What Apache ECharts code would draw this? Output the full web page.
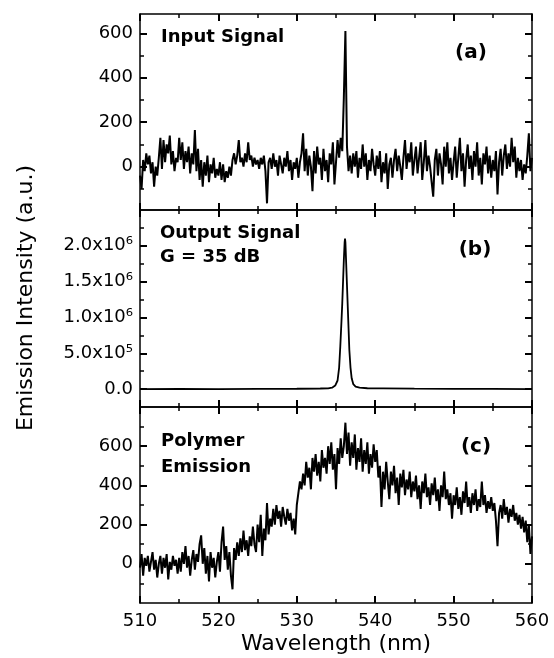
<!DOCTYPE html>
<html><head><meta charset="utf-8">
<script src="https://cdn.jsdelivr.net/npm/echarts@6/dist/echarts.min.js"></script>
<style>html,body{margin:0;padding:0;background:#fff}#c{width:554px;height:658px}</style>
</head><body><div id="c"></div>
<script>
// ---- data ----
const wlStart = 510, wlStep = 0.2;   // sampling of panels (a) and (c)
const inputSignal = [
-40,-100,30,-20,60,10,50,-30,20,-90,0,-40,40,130,-10,120,20,100,60,140,10,70,-20,40,20,
130,30,110,-10,70,20,90,-30,60,10,165,-20,80,-60,30,-90,20,-40,50,-70,10,-30,40,-50,-10,
-40,20,-60,10,-70,-20,-50,0,-40,30,60,10,50,120,20,40,0,60,20,110,30,50,0,40,10,
30,-10,40,10,50,-20,-165,20,40,-10,60,0,30,-40,50,10,-30,40,0,70,-20,30,-60,20,-10,
40,-50,20,60,150,-20,80,-40,50,0,-110,70,-30,90,10,40,-60,80,-20,30,-70,60,10,110,-80,
20,120,40,130,70,310,610,90,-20,50,-30,60,0,70,-50,40,-10,100,0,60,-60,30,-20,80,10,
-40,50,-10,70,-70,20,-30,60,-100,10,40,-50,30,80,-20,50,0,-60,40,120,-10,60,20,110,-40,
30,90,-30,40,110,-60,20,120,-20,50,0,-70,-135,30,80,-40,60,10,-80,90,0,110,-30,40,-60,
20,90,-50,40,130,-20,60,-90,30,100,-10,50,-60,70,0,110,-40,40,-80,60,10,90,-30,50,-50,
30,-20,70,-125,20,80,-40,50,100,-10,60,0,130,20,90,-50,40,-20,30,-60,10,-30,50,150,-20,40
];
const outputWavelength = [510,515,520,525,530,533,534,534.5,534.9,535.2,535.4,535.55,535.7,535.8,535.9,536,536.1,536.15,536.2,536.3,536.4,536.5,536.6,536.7,536.85,537,537.2,537.5,538,539,541,545,550,555,560];
const outputSignal = [0,0.002e6,0,0.004e6,0.005e6,0.008e6,0.01e6,0.02e6,0.05e6,0.12e6,0.3e6,0.6e6,0.95e6,1.2e6,1.5e6,1.8e6,2.05e6,2.1e6,2.05e6,1.75e6,1.45e6,1.15e6,0.85e6,0.55e6,0.3e6,0.15e6,0.07e6,0.035e6,0.02e6,0.012e6,0.01e6,0.006e6,0.004e6,0.002e6,0];
const polymerEmission = [
-20,50,-60,30,-10,40,-40,10,60,-30,20,-70,0,40,-50,30,-20,50,-80,10,-30,40,-10,20,-50,
30,-40,60,0,90,-20,40,-60,20,70,-30,50,10,100,145,0,80,-50,40,-90,60,-20,30,-70,10,
60,-40,110,190,20,90,-30,60,-60,-130,80,20,110,40,130,60,170,70,120,40,140,90,190,100,60,
200,110,250,40,180,120,310,150,230,190,280,200,300,230,270,190,290,240,200,280,220,260,170,230,150,
300,360,420,380,460,400,520,440,490,380,540,470,560,450,520,420,580,490,540,460,600,510,620,480,560,
380,590,510,640,540,600,720,560,670,500,620,540,660,480,590,520,640,470,580,510,620,460,560,490,610,
520,580,440,500,290,470,380,520,420,330,470,400,500,360,440,300,460,390,480,350,430,380,470,340,420,
370,450,330,400,280,420,360,460,340,390,300,410,350,440,320,380,270,400,340,470,330,380,300,360,230,
350,300,390,280,340,250,370,310,420,290,340,260,360,300,380,270,330,290,420,300,350,260,320,280,340,
270,310,220,90,260,300,230,330,250,290,210,280,240,300,220,260,200,250,180,240,160,220,110,200,50,140
];
const yMajorA = [0,200,400,600], yMinorA = [-100,100,300,500];
const yMajorB = [0,5e5,1e6,1.5e6,2e6], yMinorB = [2.5e5,7.5e5,1.25e6,1.75e6,2.25e6];
const yMajorC = [0,200,400,600], yMinorC = [-100,100,300,500,700];

// ---- build ----
const FONT = 'DejaVu Sans';
const BLACK = '#000';
const grids = [
  {left:140, right:22, top:14, height:196},
  {left:140, right:22, top:210, height:197},
  {left:140, right:22, top:407, height:196}
];
function xAxes(gi, last){
  const mk = (pos) => ({type:'value', gridIndex:gi, min:510, max:560, interval:10, position:pos,
    axisLine:{show:true,onZero:false,lineStyle:{color:BLACK,width:1.5}},
    axisTick:{show:true,inside:true,length:7,lineStyle:{color:BLACK,width:2}},
    minorTick:{show:true,splitNumber:2,length:4,lineStyle:{color:BLACK,width:1.5}},
    splitLine:{show:false}, minorSplitLine:{show:false},
    axisLabel:{show:false}});
  const bottom = mk('bottom');
  if (last){
    bottom.axisLabel = {show:true, color:BLACK, fontSize:18, margin:9};
  }
  return [bottom, mk('top')];
}
function yAxes(gi, min, max, majors, minors, fmt){
  const common = {type:'value', gridIndex:gi, min, max, splitLine:{show:false}};
  const lbl = {show:true, color:BLACK, fontSize:18, margin:7,
    customValues:majors, formatter:fmt};
  const major = (pos, withLabel) => Object.assign({}, common, {position:pos,
      axisLine:{show:true,lineStyle:{color:BLACK,width:1.5}},
      axisTick:{show:true,inside:true,length:7,customValues:majors,lineStyle:{color:BLACK,width:2}},
      axisLabel: withLabel ? lbl : {show:false, customValues:majors}});
  const minor = (pos) => Object.assign({}, common, {position:pos, axisLine:{show:false},
      axisTick:{show:true,inside:true,length:4,customValues:minors,lineStyle:{color:BLACK,width:1.5}},
      axisLabel:{show:false, customValues:minors}});
  return [major('left',true), minor('left'), major('right',false), minor('right')];
}
const SUP = {'0':'⁰','1':'¹','2':'²','3':'³','4':'⁴','5':'⁵','6':'⁶','7':'⁷','8':'⁸','9':'⁹'};
const sciFmt = v => {
  if (v === 0) return '0.0';
  const e = Math.floor(Math.log10(v) + 1e-9);
  const m = v / Math.pow(10, e);
  return m.toFixed(1) + 'x10' + String(e).split('').map(c => SUP[c]).join('');
};
const intFmt = v => String(v);

const xAxis = [].concat(xAxes(0,false), xAxes(1,false), xAxes(2,true));
const yAxis = [].concat(
  yAxes(0, -195, 687, yMajorA, yMinorA, intFmt),
  yAxes(1, -0.25e6, 2.5e6, yMajorB, yMinorB, sciFmt),
  yAxes(2, -200, 800, yMajorC, yMinorC, intFmt)
);
const toPairs = arr => arr.map((v,i) => [wlStart + i*wlStep, v]);
const series = [
  {type:'line', xAxisIndex:0, yAxisIndex:0, data:toPairs(inputSignal), showSymbol:false, lineStyle:{color:BLACK, width:2}},
  {type:'line', xAxisIndex:2, yAxisIndex:4, data:outputWavelength.map((x,i)=>[x, outputSignal[i]]), showSymbol:false, lineStyle:{color:BLACK,width:1.8}},
  {type:'line', xAxisIndex:4, yAxisIndex:8, data:toPairs(polymerEmission), showSymbol:false, lineStyle:{color:BLACK, width:2}}
];
const bold = (text, x, y, align, size) => ({type:'text', x, y,
  style:{text, fontFamily:FONT, fontWeight:'bold', fontSize:size||18, fill:BLACK, align:align||'left', verticalAlign:'middle'}});
const graphic = [
  bold('Input Signal', 161, 37),
  bold('(a)', 471, 53, 'center', 20),
  bold('Output Signal', 160, 233),
  bold('G = 35 dB', 160, 257),
  bold('(b)', 475, 250, 'center', 20),
  bold('Polymer', 161, 441),
  bold('Emission', 161, 467),
  bold('(c)', 476, 447, 'center', 20),
  {type:'text', x:26, y:298, rotation:Math.PI/2,
    style:{text:'Emission Intensity (a.u.)', fontFamily:FONT, fontSize:22, fill:BLACK, align:'center', verticalAlign:'middle'}},
  {type:'text', x:336, y:644,
    style:{text:'Wavelength (nm)', fontFamily:FONT, fontSize:22, fill:BLACK, align:'center', verticalAlign:'middle'}}
];
const chart = echarts.init(document.getElementById('c'));
chart.setOption({animation:false, backgroundColor:'#fff', textStyle:{fontFamily:FONT},
  tooltip:{show:false}, grid:grids, xAxis, yAxis, series});
chart.setOption({graphic});
</script></body></html>
